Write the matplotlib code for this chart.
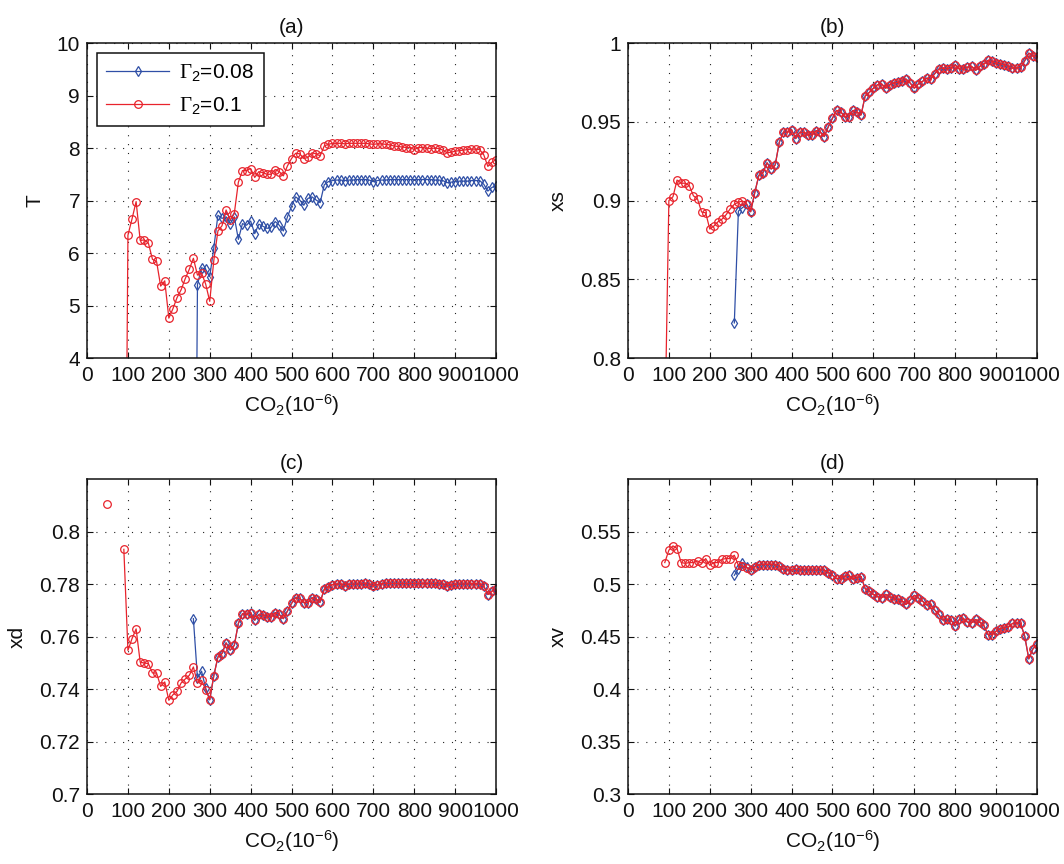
#!/usr/bin/env python3
"""
Four-panel response of T, xs, xd and xv to CO2 for two Gamma_2 values,
drawn in the old MATLAB look (boxed axes, dotted grid, inward ticks).
"""

import numpy as np
import matplotlib
matplotlib.use("Agg")
import matplotlib.pyplot as plt

BLUE = "#2f4fa6"
RED = "#e8232c"
INK = "#111111"

plt.rcParams["font.family"] = ["Liberation Sans", "DejaVu Sans"]
plt.rcParams["mathtext.fontset"] = "custom"
plt.rcParams["mathtext.rm"] = "Liberation Serif"      # serif Gamma like the original
plt.rcParams["mathtext.sf"] = "Liberation Sans"
plt.rcParams["mathtext.it"] = "Liberation Sans:italic"

NAN = np.nan

# CO2 (1e-6) sample points; 60-80 were not computed (gaps)
CO2_RED = [50, 60, 70, 80] + list(range(90, 1001, 10))
CO2_BLUE = list(range(260, 1001, 10))

# ---- (a) T ----
T_RED = [NAN, NAN, NAN, NAN,
         -3.8,
         6.34, 6.65, 6.98, 6.24, 6.25, 6.19, 5.88, 5.84, 5.37, 5.47,
         4.76, 4.94, 5.15, 5.30, 5.51, 5.69, 5.90, 5.58, 5.62, 5.41,
         5.08, 5.86, 6.42, 6.52, 6.82, 6.63, 6.75, 7.35, 7.57, 7.57,
         7.61, 7.44, 7.55, 7.53, 7.50, 7.50, 7.59, 7.55, 7.47, 7.66,
         7.80, 7.90, 7.89, 7.80, 7.82, 7.91, 7.89, 7.85, 8.04, 8.07,
         8.09, 8.09, 8.09, 8.08, 8.09, 8.09, 8.09, 8.09, 8.09, 8.08,
         8.07, 8.08, 8.08, 8.07, 8.06, 8.04, 8.03, 8.02, 8.01, 8.01,
         7.97, 8.01, 8.01, 8.00, 7.99, 8.00, 7.99, 7.96, 7.91, 7.92,
         7.94, 7.95, 7.96, 7.97, 7.98, 7.98, 7.97, 7.87, 7.65, 7.73,
         7.78]
T_BLUE = [-5.4, 5.40, 5.72, 5.69,
          5.55, 6.10, 6.72, 6.66, 6.69, 6.56, 6.69, 6.26, 6.56, 6.53,
          6.61, 6.37, 6.55, 6.51, 6.47, 6.49, 6.60, 6.53, 6.42, 6.69,
          6.89, 7.07, 7.01, 6.91, 7.04, 7.07, 7.01, 6.96, 7.30, 7.36,
          7.38, 7.39, 7.39, 7.38, 7.39, 7.39, 7.40, 7.40, 7.40, 7.39,
          7.36, 7.38, 7.39, 7.39, 7.40, 7.40, 7.40, 7.40, 7.40, 7.40,
          7.40, 7.40, 7.40, 7.40, 7.40, 7.39, 7.39, 7.38, 7.34, 7.35,
          7.36, 7.37, 7.37, 7.37, 7.38, 7.38, 7.38, 7.31, 7.18, 7.25,
          7.28]

# ---- (b) xs ----
XS_RED = [NAN, NAN, NAN, NAN,
          0.75,
          0.900, 0.9024, 0.913, 0.911, 0.911, 0.9094, 0.903, 0.901, 0.8927, 0.8922,
          0.8819, 0.8838, 0.8865, 0.8882, 0.891, 0.8948, 0.8976, 0.899, 0.8997, 0.898,
          0.8929, 0.905, 0.916, 0.9177, 0.924, 0.920, 0.9226, 0.937, 0.9434, 0.9434,
          0.945, 0.9393, 0.9434, 0.9432, 0.9417, 0.9417, 0.9444, 0.9436, 0.9406, 0.947,
          0.9523, 0.9572, 0.9565, 0.953, 0.9533, 0.9572, 0.956, 0.9544, 0.9665, 0.9686,
          0.9713, 0.9735, 0.9741, 0.9713, 0.9735, 0.9746, 0.975, 0.9756, 0.9771, 0.9746,
          0.9713, 0.9741, 0.9756, 0.9777, 0.9771, 0.9805, 0.9835, 0.9841, 0.9835, 0.9841,
          0.9862, 0.9835, 0.9835, 0.9847, 0.9852, 0.9826, 0.9852, 0.9866, 0.989, 0.9883,
          0.9873, 0.9866, 0.9862, 0.9852, 0.9841, 0.9841, 0.9845, 0.9887, 0.9936, 0.9919,
          0.9909]
XS_BLUE_EARLY = [0.8223, 0.8933, 0.8955, 0.8975]   # 260-290, later equal to red

# ---- (c) xd ----
XD_RED = [0.8103, NAN, NAN, NAN,
          0.7932,
          0.7547, 0.7592, 0.7629, 0.7502, 0.7499, 0.7497, 0.7461, 0.7461, 0.7410, 0.7427,
          0.7357, 0.7378, 0.7391, 0.7423, 0.7438, 0.7452, 0.7484, 0.7423, 0.7433, 0.7397,
          0.7359, 0.7451, 0.7522, 0.7535, 0.7576, 0.7548, 0.7566, 0.7650, 0.7687, 0.7684,
          0.7691, 0.7662, 0.7684, 0.7682, 0.7675, 0.7675, 0.7691, 0.7684, 0.7668, 0.7697,
          0.7726, 0.7748, 0.7745, 0.7729, 0.7729, 0.7748, 0.7741, 0.7731, 0.7780, 0.7789,
          0.7798, 0.7800, 0.7800, 0.7793, 0.7799, 0.7799, 0.7800, 0.7800, 0.7802, 0.7799,
          0.7793, 0.7798, 0.7801, 0.7802, 0.7802, 0.7802, 0.7802, 0.7802, 0.7802, 0.7802,
          0.7802, 0.7802, 0.7802, 0.7802, 0.7802, 0.7802, 0.7801, 0.7800, 0.7793, 0.7795,
          0.7799, 0.7800, 0.7800, 0.7800, 0.7801, 0.7801, 0.7800, 0.7792, 0.7760, 0.7773,
          0.7780]
XD_BLUE_EARLY = [0.7668, 0.7442, 0.7468, 0.7404]

# ---- (d) xv ----
XV_RED = [NAN, NAN, NAN, NAN,
          0.5204,
          0.5322, 0.5363, 0.5338, 0.5204, 0.5197, 0.5204, 0.5204, 0.5220, 0.5197, 0.5242,
          0.5178, 0.5204, 0.5204, 0.5236, 0.5242, 0.5242, 0.5274, 0.5178, 0.5172, 0.5156,
          0.5134, 0.5166, 0.5182, 0.5185, 0.5185, 0.5185, 0.5182, 0.5170, 0.5140, 0.5134,
          0.5134, 0.5140, 0.5134, 0.5134, 0.5134, 0.5134, 0.5130, 0.5134, 0.5134, 0.5108,
          0.5083, 0.5051, 0.5051, 0.5076, 0.5083, 0.5045, 0.5060, 0.5070, 0.4955, 0.4933,
          0.4901, 0.4879, 0.4869, 0.4901, 0.4879, 0.4860, 0.4854, 0.4838, 0.4806, 0.4847,
          0.4892, 0.4869, 0.4838, 0.4800, 0.4806, 0.4752, 0.4710, 0.4656, 0.4662, 0.4656,
          0.4599, 0.4662, 0.4672, 0.4637, 0.4631, 0.4662, 0.4637, 0.4605, 0.4519, 0.4519,
          0.4551, 0.4573, 0.4583, 0.4589, 0.4624, 0.4631, 0.4624, 0.4503, 0.4287, 0.4382,
          0.4424]
XV_BLUE_EARLY = [0.5083, 0.5146, 0.5204, 0.5160]

X_TICKS = list(range(0, 1001, 100))
LABEL_FS = 15


def blue_from_red(red, early):
    """Blue run starts at 260; from 300 on it sits under the red curve."""
    red = np.asarray(red, dtype=float)
    x = np.asarray(CO2_RED)
    return np.concatenate([early, red[x >= 300]])


def style_axes(ax, title, ylabel, ylim, yticks):
    ax.set_xlim(0, 1000)
    ax.set_ylim(*ylim)
    ax.set_xticks(X_TICKS)
    ax.set_yticks(yticks)
    ax.set_yticklabels([f"{t:g}" for t in yticks])
    ax.tick_params(direction="in", top=True, right=True, length=4,
                   width=0.8, labelsize=LABEL_FS, colors=INK)
    ax.tick_params(axis="x", pad=6)
    ax.tick_params(axis="y", pad=5)
    ax.grid(True, linestyle=(0, (1, 7)), color="#222222", linewidth=0.8)
    for s in ax.spines.values():
        s.set_linewidth(1.1)
        s.set_color(INK)
    ax.set_title(title, fontsize=LABEL_FS, color=INK, pad=7)
    ax.set_xlabel(r"CO$_\mathsf{2}$(10$^{\mathsf{-6}}$)", fontsize=LABEL_FS,
                  color=INK, labelpad=5)
    ax.set_ylabel(ylabel, fontsize=LABEL_FS, color=INK, labelpad=9)


def draw(ax, red, blue):
    lb, = ax.plot(CO2_BLUE, blue, color=BLUE, lw=0.9, marker="d", ms=5.5,
                  mfc="none", mec=BLUE, mew=0.9)
    lr, = ax.plot(CO2_RED, red, color=RED, lw=0.9, marker="o", ms=5.5,
                  mfc="none", mec=RED, mew=0.9)
    return lb, lr


def main():
    fig = plt.figure(figsize=(10.64, 8.64), dpi=100)
    fig.patch.set_facecolor("white")

    w, h = 0.3844, 0.3646
    ax_a = fig.add_axes([0.0818, 0.5856, w, h])
    ax_b = fig.add_axes([0.5902, 0.5856, w, h])
    ax_c = fig.add_axes([0.0818, 0.0810, w, h])
    ax_d = fig.add_axes([0.5902, 0.0810, w, h])

    lb, lr = draw(ax_a, T_RED, T_BLUE)
    draw(ax_b, XS_RED, blue_from_red(XS_RED, XS_BLUE_EARLY))
    draw(ax_c, XD_RED, blue_from_red(XD_RED, XD_BLUE_EARLY))
    draw(ax_d, XV_RED, blue_from_red(XV_RED, XV_BLUE_EARLY))

    style_axes(ax_a, "(a)", "T", (4, 10), [4, 5, 6, 7, 8, 9, 10])
    style_axes(ax_b, "(b)", "xs", (0.8, 1.0), [0.8, 0.85, 0.9, 0.95, 1.0])
    style_axes(ax_c, "(c)", "xd", (0.7, 0.82), [0.7, 0.72, 0.74, 0.76, 0.78, 0.8])
    style_axes(ax_d, "(d)", "xv", (0.3, 0.6), [0.3, 0.35, 0.4, 0.45, 0.5, 0.55])

    leg = ax_a.legend([lb, lr],
                      [r"$\Gamma_\mathsf{2}$=0.08", r"$\Gamma_\mathsf{2}$=0.1"],
                      loc="upper left", bbox_to_anchor=(0.0245, 0.968),
                      borderaxespad=0, fontsize=15, frameon=True, fancybox=False,
                      framealpha=1, edgecolor=INK, handlelength=3.0,
                      borderpad=0.45, labelspacing=0.55, handletextpad=0.5)
    leg.get_frame().set_linewidth(1.1)

    fig.savefig("out.png", dpi=100, facecolor="white")
    plt.close(fig)


if __name__ == "__main__":
    main()
